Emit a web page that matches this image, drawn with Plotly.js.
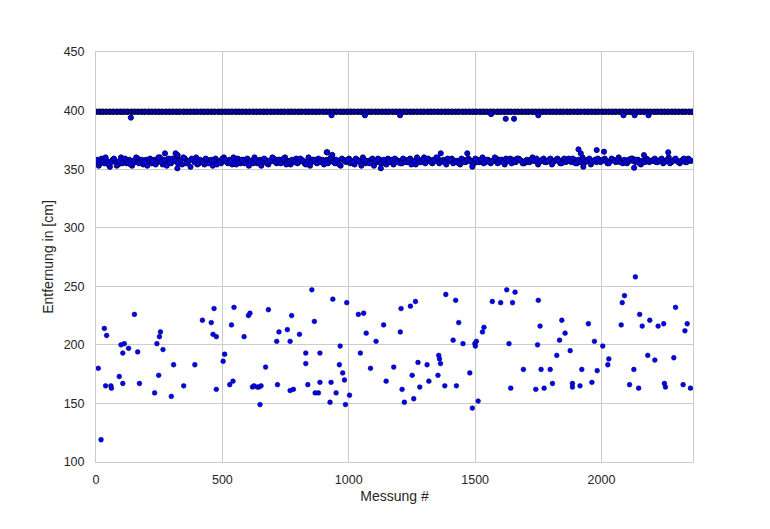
<!DOCTYPE html>
<html>
<head>
<meta charset="utf-8">
<script src="https://cdn.plot.ly/plotly-3.0.1.min.js"></script>
<style>html,body{margin:0;padding:0;background:#fff;}#chart{width:770px;height:529px;}</style>
</head>
<body>
<div id="chart"></div>
<script>
// Scattered low readings (Messung #, Entfernung in cm)
const lowX = [9,20,33,38,42,59,61,92,99,106,106,112,129,152,165,172,232,241,248,251,255,265,298,307,347,391,421,456,463,467,476,476,503,509,529,536,542,546,586,603,609,619,625,638,645,649,653,671,682,715,718,724,757,768,768,774,781,805,830,830,838,854,864,867,880,886,886,926,930,937,950,963,966,976,983,987,992,1003,1038,1046,1059,1069,1086,1108,1138,1148,
1178,1204,1207,1211,1220,1244,1251,1257,1264,1274,1281,1310,1317,1353,1356,1359,1363,1380,1384,1413,1423,1426,1435,1452,1479,1489,1499,1501,1505,1512,1529,1535,1568,1601,1625,1634,1641,1648,1658,1691,1740,1747,1750,1757,1761,1773,1797,1806,1823,1834,1843,1856,1876,1885,1885,1915,1922,1948,1962,1972,1983,2005,2025,2029,2078,2082,2091,2111,2128,2134,2147,2151,2161,2183,2191,2211,2224,2246,2249,2253,2286,2293,2323,2330,2339,2352];
const lowY = [180,119,214,165,208,165,163,173,200,193,167,201,197,226,194,167,159,201,174,207,211,196,156,183,165,183,221,219,209,231,207,162,186,192,166,217,169,232,207,225,227,164,165,164,164,149,165,181,230,203,166,211,213,203,161,225,162,209,193,184,166,247,220,159,159,193,168,151,168,239,159,183,199,176,170,149,236,157,226,193,227,210,180,203,217,169,
181,211,231,162,151,233,174,154,237,185,164,183,169,174,191,188,184,165,243,204,238,165,219,201,176,146,201,199,203,152,211,215,237,236,247,201,163,236,245,179,162,200,238,216,179,163,179,167,191,204,221,210,195,167,164,165,179,218,168,203,178,199,183,188,217,236,242,166,179,258,163,226,216,191,221,187,216,218,167,164,189,232,166,212,218,163];

// Upper band (~399 cm)
const topX = [0,14,27,41,55,68,83,97,110,124,139,152,166,180,193,208,221,235,249,262,277,290,304,318,331,346,359,373,387,400,415,428,442,456,469,484,497,511,525,538,553,566,580,594,607,622,635,649,663,676,691,704,718,732,745,760,773,787,801,814,829,842,856,870,883,898,911,925,939,952,967,980,994,1008,1021,1036,1049,1063,1077,1090,1105,1118,1132,1146,1159,1174,1187,1201,1215,1228,1243,1256,1270,1284,1297,1312,1325,1339,1353,1366,1381,1394,1408,1422,1435,1450,1463,1477,1491,1504,1519,1532,1546,1560,1573,1588,1601,1615,1629,1642,1657,1670,1684,1698,1711,1726,1739,1753,1767,1780,1795,1808,1822,1836,1849,1864,1877,1891,1905,1918,1933,1946,1960,1974,1987,2002,2015,2029,2043,2056,2071,2084,2098,2112,2125,2140,2153,2167,2181,2194,2209,2222,2236,2250,2263,2278,2291,2305,2319,2332,2347,2360];
const topY = [399,399,399,399,399,399,399,399,399,399,399,399,399,399,399,399,399,399,399,399,399,399,399,399,399,399,399,399,399,399,399,399,399,399,399,399,399,399,399,399,399,399,399,399,399,399,399,399,399,399,399,399,399,399,399,399,399,399,399,399,399,399,399,399,399,399,399,399,399,399,399,399,399,399,399,399,399,399,399,399,399,399,399,399,399,399,399,399,399,399,399,399,399,399,399,399,399,399,399,399,399,399,399,399,399,399,399,399,399,399,399,399,399,399,399,399,399,399,399,399,399,399,399,399,399,399,399,399,399,399,399,399,399,399,399,399,399,399,399,399,399,399,399,399,399,399,399,399,399,399,399,399,399,399,399,399,399,399,399,399,399,399,399,399,399,399,399,399,399,399,399,399];
const topOutX = [138,932,1064,1203,1563,1621,1654,1750,2087,2131,2186];
const topOutY = [394,396,396,396,397,393,393,396,396,396,396];

// Middle band (~357 cm), two interleaved reading sets
const midX = [0,11,22,33,44,55,66,77,88,99,110,121,132,143,154,165,176,187,198,209,220,231,242,253,264,275,286,297,308,319,330,341,352,363,374,385,396,407,418,429,440,451,462,473,484,495,506,517,528,539,550,561,572,583,594,605,616,627,638,649,660,671,682,693,704,715,726,737,748,759,770,781,792,803,814,825,836,847,858,869,880,891,902,913,924,935,946,957,968,979,990,1001,1012,1023,1034,1045,1056,1067,1078,1089,1100,1111,1122,1133,1144,1155,1166,1177,1188,1199,1210,1221,1232,1243,1254,1265,1276,1287,1298,1309,1320,1331,1342,1353,1364,1375,1386,1397,1408,1419,1430,1441,1452,1463,1474,1485,1496,1507,1518,1529,1540,1551,1562,1573,1584,1595,1606,1617,1628,1639,1650,1661,1672,1683,1694,1705,1716,1727,1738,1749,1760,1771,1782,1793,1804,1815,1826,1837,1848,1859,1870,1881,1892,1903,1914,1925,1936,1947,1958,1969,1980,1991,2002,2013,2024,2035,2046,2057,2068,2079,2090,2101,2112,2123,2134,2145,2156,2167,2178,2189,2200,2211,2222,2233,2244,2255,2266,2277,2288,2299,2310,2321,2332,2343,2354];
const midY = [356,353,359,355,357,352,358,356,354,360,
357,355,358,353,356,359,357,354,358,356,
355,358,356,360,354,357,359,355,358,361,
356,354,359,357,352,358,360,355,357,354,
358,356,353,359,357,355,360,356,358,354,
357,359,355,358,356,353,357,360,355,358,
356,358,354,357,359,355,358,356,360,357,
354,357,359,356,358,355,357,353,358,356,
359,356,354,358,357,360,355,357,353,358,
356,359,357,354,358,356,360,355,357,358,
353,356,358,355,357,359,356,354,358,357,
355,358,356,359,357,354,358,356,360,357,
358,355,357,359,356,358,354,357,359,356,
357,354,358,356,359,357,355,358,356,360,
356,358,355,357,359,356,358,354,357,359,
358,356,359,357,355,358,356,360,357,354,
357,359,356,358,354,357,359,355,358,356,
359,356,358,355,357,360,356,358,354,357,
356,358,357,359,355,357,358,356,360,357,
358,355,357,359,356,358,354,357,359,356,
357,359,356,358,355,357,360,356,358,357,
355,358,356,359,357];
const midX2 = [5,16,27,38,49,60,71,82,93,104,115,126,137,148,159,170,181,192,203,214,225,236,247,258,269,280,291,302,313,324,335,346,357,368,379,390,401,412,423,434,445,456,467,478,489,500,511,522,533,544,555,566,577,588,599,610,621,632,643,654,665,676,687,698,709,720,731,742,753,764,775,786,797,808,819,830,841,852,863,874,885,896,907,918,929,940,951,962,973,984,995,1006,1017,1028,1039,1050,1061,1072,1083,1094,1105,1116,1127,1138,1149,1160,1171,1182,1193,1204,1215,1226,1237,1248,1259,1270,1281,1292,1303,1314,1325,1336,1347,1358,1369,1380,1391,1402,1413,1424,1435,1446,1457,1468,1479,1490,1501,1512,1523,1534,1545,1556,1567,1578,1589,1600,1611,1622,1633,1644,1655,1666,1677,1688,1699,1710,1721,1732,1743,1754,1765,1776,1787,1798,1809,1820,1831,1842,1853,1864,1875,1886,1897,1908,1919,1930,1941,1952,1963,1974,1985,1996,2007,2018,2029,2040,2051,2062,2073,2084,2095,2106,2117,2128,2139,2150,2161,2172,2183,2194,2205,2216,2227,2238,2249,2260,2271,2282,2293,2304,2315,2326,2337,2348];
const midY2 = [358,355,357,360,354,356,359,353,357,355,
359,356,354,357,360,355,358,356,353,359,
357,354,360,356,358,353,356,359,357,355,
358,360,355,357,359,356,354,358,356,359,
355,358,357,354,356,359,358,355,357,360,
354,356,358,355,359,357,355,358,356,353,
359,355,357,360,356,358,355,359,354,356,
358,356,355,359,357,354,360,356,358,355,
356,358,357,355,360,356,358,354,359,357,
358,355,356,359,357,353,358,357,355,359,
357,359,355,358,354,356,358,359,356,355,
359,356,358,354,357,360,356,358,355,359,
356,358,360,355,357,356,359,358,355,357,
355,359,356,358,357,354,359,356,358,355,
358,356,357,360,355,358,356,359,357,355,
356,359,358,355,357,356,358,357,359,356,
358,356,357,359,356,358,357,355,359,357,
357,359,355,358,356,358,357,359,356,358,
359,356,358,357,355,359,357,358,356,355,
356,358,359,357,358,355,357,356,358,357,
358,356,357,359,356,358,355,357,359,356,
357,359,356,358];
const midOutX = [273,315,322,323,913,915,935,1127,1364,1469,1489,1909,1918,1928,1981,2010,2129,2168,2264];
const midOutY = [363.5,363.5,350.7,362,364.4,364.4,362.1,350.7,363.5,363.5,352.1,366.9,363.5,352.1,366.3,364.9,351.2,362,364.4];

const topMarker = {color: '#0000c8', size: 5.2, line: {color: '#000040', width: 1.3}};
const bandMarker = {color: '#0000ee', size: 5.2, line: {color: '#000050', width: 0.9}};
const lowMarker = {color: '#0000ff', size: 4.8, line: {color: '#000040', width: 0.5}};
function tr(x, y, m) { return {x: x, y: y, type: 'scatter', mode: 'markers', marker: m, showlegend: false, hoverinfo: 'skip'}; }

const data = [
  tr(topX, topY, topMarker), tr(topOutX, topOutY, bandMarker),
  tr(midX, midY, bandMarker), tr(midX2, midY2, bandMarker), tr(midOutX, midOutY, bandMarker),
  tr(lowX, lowY, lowMarker)
];

const axisCommon = {
  showgrid: true, gridcolor: '#cccccc', gridwidth: 1,
  zeroline: false, showline: true, linecolor: '#cccccc', linewidth: 1, mirror: true,
  ticks: '', tickfont: {family: 'Liberation Sans, Arial, sans-serif', size: 12.5, color: '#262626'},
  automargin: false
};

const layout = {
  width: 770, height: 529,
  margin: {l: 96, r: 77, t: 52, b: 67},
  paper_bgcolor: '#ffffff', plot_bgcolor: '#ffffff',
  font: {family: 'Liberation Sans, Arial, sans-serif', color: '#262626'},
  xaxis: Object.assign({}, axisCommon, {
    range: [0, 2362], tickvals: [0, 500, 1000, 1500, 2000], ticktext: ['0','500','1000','1500','2000'],
    ticklabelstandoff: 6,
    title: {text: 'Messung #', font: {size: 14, color: '#262626'}, standoff: 5}
  }),
  yaxis: Object.assign({}, axisCommon, {
    range: [100, 450], tickvals: [100,150,200,250,300,350,400,450],
    ticklabelstandoff: 8,
    title: {text: 'Entfernung in [cm]', font: {size: 14, color: '#262626'}, standoff: 6}
  })
};

Plotly.newPlot('chart', data, layout, {displayModeBar: false, staticPlot: true});
</script>
</body>
</html>
